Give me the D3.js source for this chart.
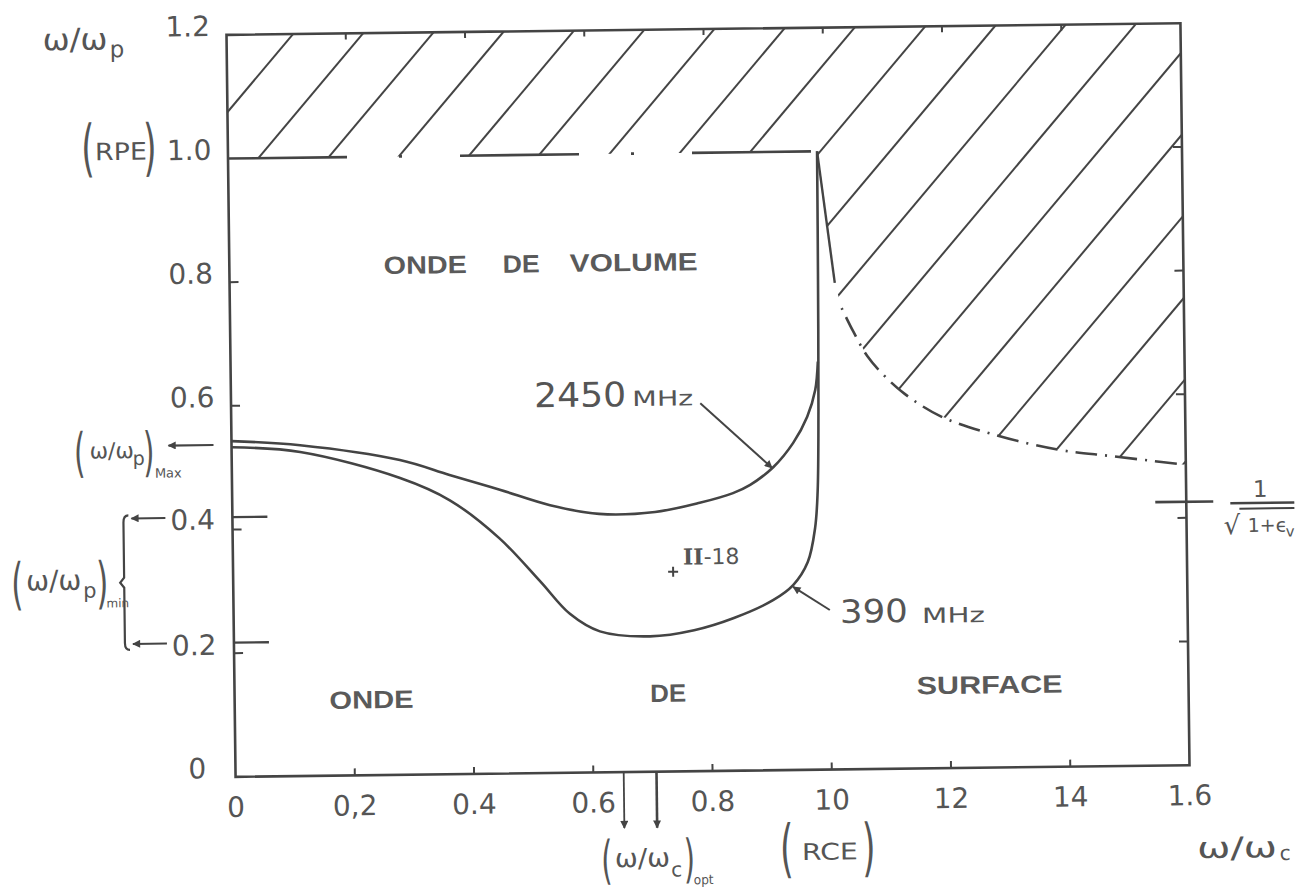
<!DOCTYPE html>
<html><head><meta charset="utf-8">
<script src="https://cdn.jsdelivr.net/npm/d3@7"></script>
<style>
html,body{margin:0;padding:0;background:#fff;}
svg{display:block;}
</style></head><body>
<svg id="chart" width="1302" height="890"></svg>
<script>
// ---------- data ----------
const xTicks = [0, 0.2, 0.4, 0.6, 0.8, 1.0, 1.2, 1.4, 1.6];
const xTickLabels = ["0", "0,2", "0.4", "0.6", "0.8", "10", "12", "14", "1.6"];
const yTicks = [0.2, 0.4, 0.6, 0.8, 1.0];
const yLabelValues = [1.2, 1.0, 0.8, 0.6, 0];
const yLabelTexts = ["1.2", "1.0", "0.8", "0.6", "0"];
const minValues = [0.42, 0.217];          // (w/wp)min marks
const minLabels = ["0.4", "0.2"];
const maxValue = 0.537;                  // (w/wp)Max
const optValues = [0.651, 0.706];        // (w/wc)opt
const asymptoteValue = 0.426;            // 1/sqrt(1+eps_v)
const rpeValue = 1.0;

const x2450 = [0, 0.115, 0.282, 0.365, 0.449, 0.533, 0.615, 0.709, 0.784, 0.840, 0.869, 0.908, 0.942, 0.966, 0.980, 0.985];
const y2450 = [0.543, 0.535, 0.509, 0.484, 0.459, 0.433, 0.418, 0.420, 0.434, 0.449, 0.462, 0.490, 0.529, 0.571, 0.614, 0.66];

const x390 = [0, 0.115, 0.282, 0.365, 0.448, 0.515, 0.564, 0.614, 0.698, 0.772, 0.839, 0.905, 0.939, 0.964, 0.977, 0.982, 0.985, 0.987, 0.988];
const y390 = [0.533, 0.524, 0.480, 0.443, 0.380, 0.310, 0.257, 0.228, 0.219, 0.228, 0.247, 0.275, 0.299, 0.336, 0.391, 0.45, 0.58, 0.80, 1.0];

const xEdge = [0.988, 1.015];
const yEdge = [1.0, 0.787];
const xCut = [1.026, 1.045, 1.068, 1.095, 1.13, 1.19, 1.277, 1.385, 1.478, 1.59];
const yCut = [0.746, 0.708, 0.668, 0.637, 0.606, 0.569, 0.539, 0.513, 0.501, 0.487];

const pointX = [0.738], pointY = [0.323], pointLabel = ["II-18"];
const arrow2450 = {x: [0.787, 0.906], y: [0.595, 0.489]};
const arrow390 = {x: [1.0, 0.939], y: [0.258, 0.296]};

// ---------- setup ----------
const INK = "#444", TXT = "#555";
const svg = d3.select("#chart");
const defs = svg.append("defs");
defs.append("marker").attr("id", "ah").attr("viewBox", "0 0 10 10")
  .attr("refX", 9).attr("refY", 5).attr("markerWidth", 11).attr("markerHeight", 8)
  .attr("markerUnits", "userSpaceOnUse").attr("orient", "auto")
  .append("path").attr("d", "M0,0 L10,5 L0,10 Z").attr("fill", INK);

const g = svg.append("g").attr("transform", "rotate(-0.7,710,400)");
const sx = d3.scaleLinear().domain([0, 1.6]).range([231, 1185]);
const sy = d3.scaleLinear().domain([0, 1.2]).range([771, 29]);
const X0 = sx(0), X1 = sx(1.6), Y0 = sy(0), Y1 = sy(1.2);

const line = d3.line().x(d => sx(d[0])).y(d => sy(d[1]));
const smooth = d3.line().x(d => sx(d[0])).y(d => sy(d[1])).curve(d3.curveCatmullRom.alpha(0.5));
const zip = (a, b) => a.map((v, i) => [v, b[i]]);

function txt(p, x, y, s, o = {}) {
  const t = p.append("text").attr("x", x).attr("y", y).text(s)
    .attr("font-size", o.size || 20).attr("font-family", o.family || "DejaVu Sans")
    .attr("font-weight", o.weight || "normal").attr("fill", o.fill || TXT)
    .attr("text-anchor", o.anchor || "start");
  if (o.len) t.attr("textLength", o.len).attr("lengthAdjust", "spacingAndGlyphs");
  return t;
}
function paren(p, cx, top, ch, size) {
  p.append("text").attr("transform", `translate(${cx},${top + 0.76 * size}) scale(0.55,1)`)
    .attr("text-anchor", "middle").attr("font-size", size).attr("font-family", "DejaVu Sans")
    .attr("fill", TXT).text(ch);
}

// ---------- hatching ----------
const clipPts = [[0, 1.2], [1.6, 1.2], [1.6, 0.486]]
  .concat(zip(xCut, yCut).reverse())
  .concat([[xEdge[1], yEdge[1]], [xEdge[0], yEdge[0]], [0, rpeValue]]);
defs.append("clipPath").attr("id", "hatchClip").append("path")
  .attr("d", line(clipPts) + "Z");
const hatch = g.append("g").attr("clip-path", "url(#hatchClip)");
const slope = 1.162, step = 70.25, yLow = sy(0.4);
d3.range(-1, 26).forEach(k => {
  const xt = X0 + 66.5 + step * k;
  hatch.append("line").attr("x1", xt).attr("y1", Y1)
    .attr("x2", xt - (yLow - Y1) / slope).attr("y2", yLow)
    .attr("stroke", INK).attr("stroke-width", 2);
});

// ---------- frame ----------
g.append("rect").attr("x", X0).attr("y", Y1).attr("width", X1 - X0).attr("height", Y0 - Y1)
  .attr("fill", "none").attr("stroke", INK).attr("stroke-width", 2.6);

// RPE line (dash-dot)
g.append("path").attr("d", line([[0, rpeValue], [xEdge[0], rpeValue]]))
  .attr("stroke", INK).attr("stroke-width", 2.6).attr("fill", "none")
  .attr("stroke-dasharray", "119,52,3,58");

// ticks
xTicks.slice(1, -1).forEach(v => {
  g.append("line").attr("x1", sx(v)).attr("x2", sx(v)).attr("y1", Y0).attr("y2", Y0 - 7)
    .attr("stroke", INK).attr("stroke-width", 2);
  g.append("line").attr("x1", sx(v)).attr("x2", sx(v)).attr("y1", Y1).attr("y2", Y1 + 6)
    .attr("stroke", INK).attr("stroke-width", 2);
});
yTicks.forEach(v => {
  if (v < 1) g.append("line").attr("x1", X0).attr("x2", X0 + 9).attr("y1", sy(v)).attr("y2", sy(v))
    .attr("stroke", INK).attr("stroke-width", 2);
  g.append("line").attr("x1", X1).attr("x2", X1 - 9).attr("y1", sy(v)).attr("y2", sy(v))
    .attr("stroke", INK).attr("stroke-width", 2);
});
minValues.forEach(v => {
  g.append("line").attr("x1", X0).attr("x2", X0 + 35).attr("y1", sy(v)).attr("y2", sy(v))
    .attr("stroke", INK).attr("stroke-width", 2.4);
});

// ---------- curves ----------
g.append("path").attr("d", smooth(zip(x2450, y2450))).attr("fill", "none")
  .attr("stroke", INK).attr("stroke-width", 2.6);
g.append("path").attr("d", smooth(zip(x390, y390))).attr("fill", "none")
  .attr("stroke", INK).attr("stroke-width", 2.6);
g.append("path").attr("d", line(zip(xEdge, yEdge))).attr("fill", "none")
  .attr("stroke", INK).attr("stroke-width", 2.4);
g.append("path").attr("d", smooth(zip(xCut, yCut))).attr("fill", "none")
  .attr("stroke", INK).attr("stroke-width", 2.6).attr("stroke-dasharray", "2,8,22,8");

// asymptote mark
g.append("line").attr("x1", X1 - 31).attr("x2", X1 + 27)
  .attr("y1", sy(asymptoteValue)).attr("y2", sy(asymptoteValue))
  .attr("stroke", INK).attr("stroke-width", 2.6);

// arrows to curves
[arrow2450, arrow390].forEach(a => {
  g.append("line").attr("x1", sx(a.x[0])).attr("y1", sy(a.y[0]))
    .attr("x2", sx(a.x[1])).attr("y2", sy(a.y[1]))
    .attr("stroke", INK).attr("stroke-width", 2).attr("marker-end", "url(#ah)");
});

// point II-18
pointX.forEach((px, i) => {
  const cx = sx(px), cy = sy(pointY[i]);
  g.append("path").attr("d", `M${cx - 5},${cy}H${cx + 5}M${cx},${cy - 5}V${cy + 5}`)
    .attr("stroke", INK).attr("stroke-width", 2);
  const t = g.append("text").attr("x", cx + 10).attr("y", cy - 7).attr("fill", TXT)
    .attr("font-size", 22).attr("font-family", "DejaVu Sans");
  t.append("tspan").attr("font-family", "DejaVu Serif").attr("font-weight", "bold").text("II");
  t.append("tspan").text("-18");
});

// ---------- tick labels ----------
xTicks.forEach((v, i) => txt(g, sx(v), Y0 + 40, xTickLabels[i], {size: 28, anchor: "middle"}));
yLabelValues.forEach((v, i) => {
  if (v === 0) txt(g, X0 - 47, Y0 + 1, yLabelTexts[i], {size: 28});
  else txt(g, X0 - 61, sy(v) + 1, yLabelTexts[i], {size: 28});
});
minValues.forEach((v, i) => {
  txt(g, X0 - 62, sy(v) + 12, minLabels[i], {size: 28});
  g.append("line").attr("x1", X0 - 67).attr("x2", X0 - 101).attr("y1", sy(v)).attr("y2", sy(v))
    .attr("stroke", INK).attr("stroke-width", 2).attr("marker-end", "url(#ah)");
});

// brace for (w/wp)min
{
  const a = sy(minValues[0]) - 3, b = sy(minValues[1]) + 6, m = (a + b) / 2, xb = X0 - 109;
  g.append("path").attr("d",
    `M${xb + 5},${a} Q${xb},${a} ${xb},${a + 7} L${xb},${m - 5} L${xb - 4},${m} L${xb},${m + 5} L${xb},${b - 7} Q${xb},${b} ${xb + 5},${b}`)
    .attr("fill", "none").attr("stroke", INK).attr("stroke-width", 2.2);
}

// ---------- axis titles / annotations ----------
// w/wp (top-left)
txt(g, X0 - 184, Y1 + 13, "ω/ω", {size: 30, len: 65});
txt(g, X0 - 117, Y1 + 21, "p", {size: 23});

// (RPE)
{
  const y = sy(rpeValue);
  paren(g, X0 - 140, y - 38, "(", 62);
  txt(g, X0 - 133, y, "RPE", {size: 24, len: 52});
  paren(g, X0 - 78, y - 38, ")", 62);
}

// (w/wp)Max with arrow
{
  const y = sy(maxValue);
  g.append("line").attr("x1", X0 - 18).attr("x2", X0 - 63).attr("y1", y).attr("y2", y)
    .attr("stroke", INK).attr("stroke-width", 2.2).attr("marker-end", "url(#ah)");
  paren(g, X0 - 152, y - 16, "(", 53);
  txt(g, X0 - 142, y + 12, "ω/ω", {size: 22});
  txt(g, X0 - 99, y + 19, "p", {size: 19});
  paren(g, X0 - 83, y - 16, ")", 53);
  txt(g, X0 - 77, y + 32, "Max", {size: 13});
}

// (w/wp)min
{
  const y = (sy(minValues[0]) + sy(minValues[1])) / 2;
  paren(g, X0 - 216, y - 22, "(", 56);
  txt(g, X0 - 207, y + 8, "ω/ω", {size: 28, len: 55});
  txt(g, X0 - 150, y + 16, "p", {size: 21});
  paren(g, X0 - 131, y - 22, ")", 56);
  txt(g, X0 - 127, y + 26, "min", {size: 12});
}

// (w/wc)opt with arrows
optValues.forEach((v, i) => {
  g.append("line").attr("x1", sx(v)).attr("x2", sx(v)).attr("y1", Y0).attr("y2", Y0 + 56)
    .attr("stroke", INK).attr("stroke-width", i ? 2.6 : 1.8).attr("marker-end", "url(#ah)");
});
{
  const xb = sx(0.6), y = Y0;
  paren(g, xb + 12.6, y + 66, "(", 52);
  txt(g, xb + 20.6, y + 95, "ω/ω", {size: 26, len: 55});
  txt(g, xb + 76.6, y + 105, "c", {size: 20});
  paren(g, xb + 95, y + 66, ")", 52);
  txt(g, xb + 99, y + 113, "opt", {size: 13, len: 20});
}

// (RCE)
{
  const xb = sx(1.0), y = Y0;
  paren(g, xb - 46, y + 52, "(", 63);
  txt(g, xb - 31, y + 90, "RCE", {size: 23, len: 56});
  paren(g, xb + 36, y + 52, ")", 63);
}

// w/wc
txt(g, X1 + 6.5, Y0 + 93, "ω/ω", {size: 29, len: 80});
txt(g, X1 + 89, Y0 + 96, "c", {size: 20});

// 1/sqrt(1+eps_v)
{
  const y = sy(asymptoteValue);
  txt(g, X1 + 74, y - 4, "1", {size: 23, anchor: "middle"});
  g.append("line").attr("x1", X1 + 44).attr("x2", X1 + 108).attr("y1", y + 2).attr("y2", y + 2)
    .attr("stroke", INK).attr("stroke-width", 2.4);
  txt(g, X1 + 37, y + 33, "√", {size: 26});
  g.append("line").attr("x1", X1 + 53).attr("x2", X1 + 108).attr("y1", y + 7.5).attr("y2", y + 7.5)
    .attr("stroke", INK).attr("stroke-width", 2);
  txt(g, X1 + 61, y + 31, "1+ϵ", {size: 19});
  txt(g, X1 + 99, y + 36, "v", {size: 15});
}

// curve labels
{
  const tx = sx(arrow2450.x[0]), ty = sy(arrow2450.y[0]);
  txt(g, tx - 166, ty + 2, "2450", {size: 34, len: 92});
  txt(g, tx - 68, ty + 2, "MHz", {size: 21, len: 61});
  const ux = sx(arrow390.x[0]), uy = sy(arrow390.y[0]);
  txt(g, ux + 10, uy + 13, "390", {size: 32, len: 68});
  txt(g, ux + 92, uy + 14, "MHz", {size: 21, len: 63});
}

// region labels
const REG = {size: 25, weight: "bold", family: "Liberation Sans", fill: "#5a5a5a"};
{
  const x = sx(0.259), y = sy(0.81);
  txt(g, x, y, "ONDE", Object.assign({len: 83}, REG));
  txt(g, x + 119, y, "DE", Object.assign({len: 37}, REG));
  txt(g, x + 186, y, "VOLUME", Object.assign({len: 128}, REG));
}
txt(g, sx(0.159), sy(0.108), "ONDE", Object.assign({len: 84}, REG));
txt(g, sx(0.697), sy(0.113), "DE", Object.assign({len: 36}, REG));
txt(g, sx(1.144), sy(0.120), "SURFACE", Object.assign({len: 146}, REG));
</script>
</body></html>
